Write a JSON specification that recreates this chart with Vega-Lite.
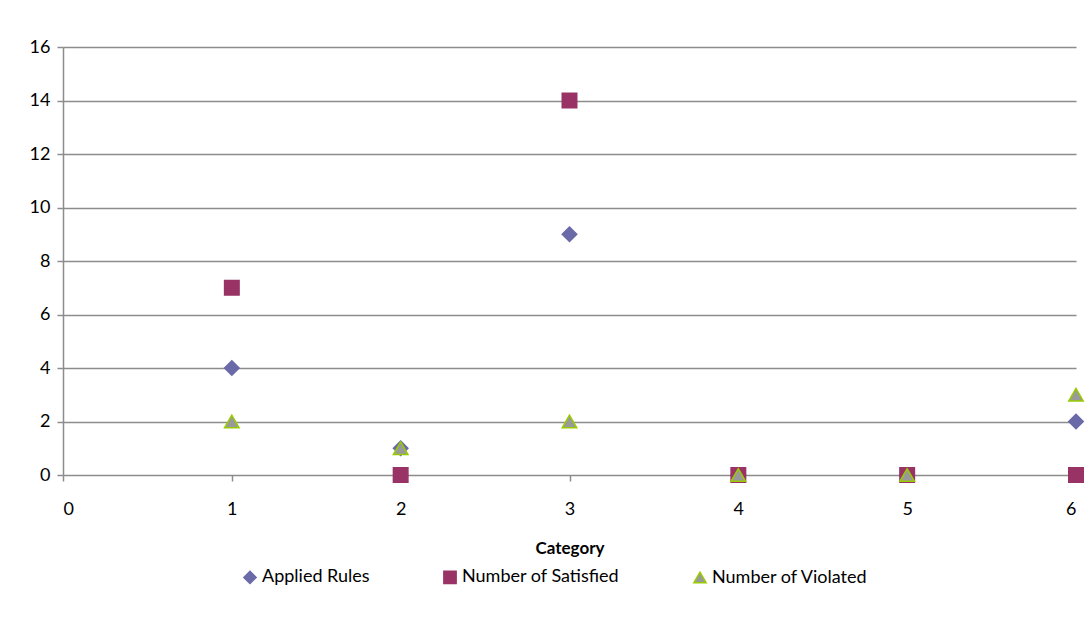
{
  "$schema": "https://vega.github.io/schema/vega-lite/v6.json",
  "width": 1013,
  "height": 428,
  "autosize": {"type": "none"},
  "padding": {"left": 63, "top": 47, "right": 14, "bottom": 154},
  "background": "white",
  "config": {"view": {"stroke": null}, "font": "Lato"},
  "data": {
    "values": [
      {"category": 1, "series": "Applied Rules", "value": 4},
      {"category": 2, "series": "Applied Rules", "value": 1},
      {"category": 3, "series": "Applied Rules", "value": 9},
      {"category": 4, "series": "Applied Rules", "value": 0},
      {"category": 5, "series": "Applied Rules", "value": 0},
      {"category": 6, "series": "Applied Rules", "value": 2},
      {"category": 1, "series": "Number of Satisfied", "value": 7},
      {"category": 2, "series": "Number of Satisfied", "value": 0},
      {"category": 3, "series": "Number of Satisfied", "value": 14},
      {"category": 4, "series": "Number of Satisfied", "value": 0},
      {"category": 5, "series": "Number of Satisfied", "value": 0},
      {"category": 6, "series": "Number of Satisfied", "value": 0},
      {"category": 1, "series": "Number of Violated", "value": 2},
      {"category": 2, "series": "Number of Violated", "value": 1},
      {"category": 3, "series": "Number of Violated", "value": 2},
      {"category": 4, "series": "Number of Violated", "value": 0},
      {"category": 5, "series": "Number of Violated", "value": 0},
      {"category": 6, "series": "Number of Violated", "value": 3}
    ]
  },
  "mark": {"type": "point", "filled": true, "opacity": 1, "size": 210, "strokeWidth": 1.5},
  "encoding": {
    "x": {
      "field": "category", "type": "quantitative",
      "scale": {"domain": [0, 6], "nice": false, "zero": false},
      "axis": {
        "values": [0, 1, 2, 3, 4, 5, 6], "title": "Category", "grid": false, "domain": false,
        "tickColor": "#8c8c8c", "tickSize": 6, "tickWidth": 1.5,
        "labelFontSize": 18, "labelColor": "black", "labelPadding": 19,
        "titleFontSize": 17, "titleFontWeight": "bold", "titleColor": "black", "titlePadding": 22
      }
    },
    "y": {
      "field": "value", "type": "quantitative",
      "scale": {"domain": [0, 16], "nice": false},
      "axis": {
        "values": [0, 2, 4, 6, 8, 10, 12, 14, 16], "title": null, "grid": true,
        "gridColor": "#8c8c8c", "gridWidth": 1.5, "gridOpacity": 1,
        "domainColor": "#8c8c8c", "domainWidth": 1.5,
        "tickColor": "#8c8c8c", "tickSize": 6, "tickWidth": 1.5,
        "labelFontSize": 18, "labelColor": "black", "labelPadding": 7
      }
    },
    "fill": {
      "field": "series", "type": "nominal",
      "scale": {"domain": ["Applied Rules", "Number of Satisfied", "Number of Violated"], "range": ["#6a6aa8", "#993366", "#999999"]},
      "legend": {
        "title": null, "orient": "none", "direction": "horizontal", "legendX": 178, "legendY": 521,
        "labelFontSize": 18, "labelColor": "black", "symbolSize": 150, "columnPadding": 70, "labelOffset": 3, "symbolStrokeWidth": 1.5
      }
    },
    "stroke": {
      "field": "series", "type": "nominal",
      "scale": {"domain": ["Applied Rules", "Number of Satisfied", "Number of Violated"], "range": ["#6a6aa8", "#993366", "#99cc00"]}
    },
    "shape": {
      "field": "series", "type": "nominal",
      "scale": {"domain": ["Applied Rules", "Number of Satisfied", "Number of Violated"], "range": ["diamond", "square", "triangle-up"]}
    }
  }
}
